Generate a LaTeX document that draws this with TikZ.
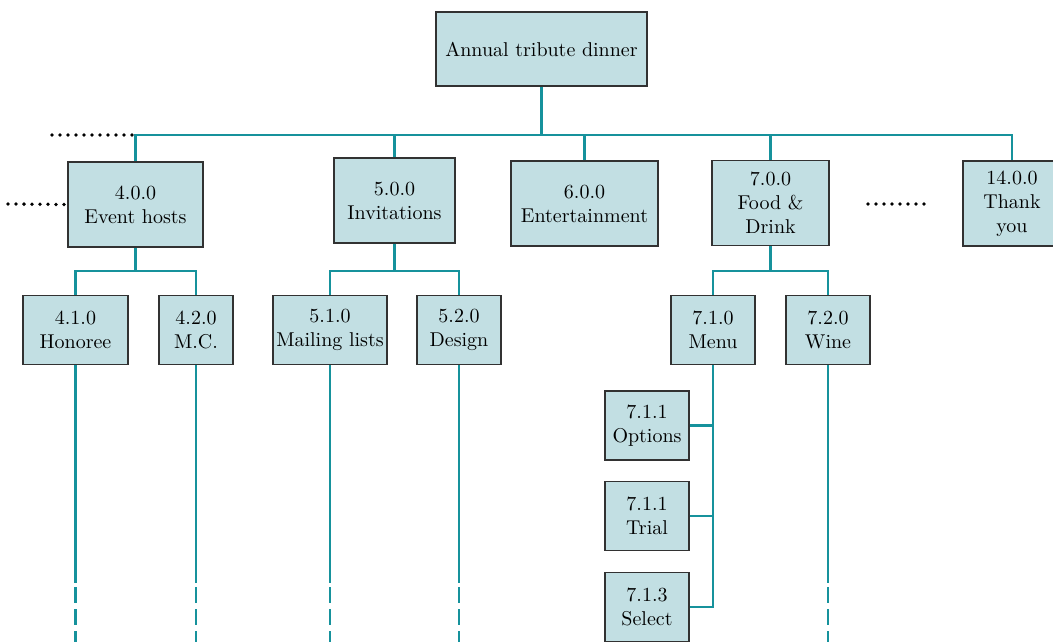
\documentclass[tikz,border=0pt]{standalone}
\usepackage{tikz}
\usetikzlibrary{positioning}

\definecolor{boxfill}{RGB}{194,223,227}
\definecolor{teal}{RGB}{22,146,156}
\definecolor{boxline}{RGB}{50,50,50}

\begin{document}
\begin{tikzpicture}[
    x=0.5pt, y=-0.5pt,
    task/.style={rectangle, draw=boxline, line width=0.7pt, fill=boxfill, align=center, inner sep=1pt, font=\fontsize{10}{12}\selectfont},
    top/.style={task, minimum height=42.5pt},
    sub/.style={task, minimum height=34.5pt},
    link/.style={teal, line width=1.35pt},
    cut/.style={teal, line width=1.35pt, dash pattern=on 8pt off 3pt},
    dots/.style={black, line width=1.9pt, line cap=round, dash pattern=on 0pt off 4pt}
]
\useasboundingbox (0,0) rectangle (1053,642);

% Root
\node[task, minimum width=105.5pt, minimum height=37pt] (dinner) at (541.5,49) {Annual tribute dinner};

% First level
\node[top, minimum width=67.5pt] (hosts) at (135.5,204.5) {4.0.0\\Event hosts};
\node[top, minimum width=60.5pt] (invites) at (394.5,200.5) {5.0.0\\Invitations};
\node[top, minimum width=73.5pt] (fun) at (584.5,203.5) {6.0.0\\Entertainment};
\node[top, minimum width=58.5pt] (food) at (770.5,203) {7.0.0\\Food \&\\Drink};
\node[top, minimum width=49pt] (thanks) at (1012,203.5) {14.0.0\\Thank\\you};

% Second level
\node[sub, minimum width=52.5pt] (honoree) at (75.5,330) {4.1.0\\Honoree};
\node[sub, minimum width=37pt] (mc) at (196,330) {4.2.0\\M.C.};
\node[sub, minimum width=57pt] (mailing) at (330,330) {5.1.0\\Mailing lists};
\node[sub, minimum width=42pt] (design) at (459,330) {5.2.0\\Design};
\node[sub, minimum width=42pt] (menu) at (713,330) {7.1.0\\Menu};
\node[sub, minimum width=42pt] (wine) at (828,330) {7.2.0\\Wine};

% Menu steps
\node[sub, minimum width=42pt] (options) at (647,425.5) {7.1.1\\Options};
\node[sub, minimum width=42pt] (trial) at (647,516) {7.1.1\\Trial};
\node[sub, minimum width=42pt] (select) at (647,607) {7.1.3\\Select};

% Helper coordinates
\coordinate (bus) at (0,135);
\coordinate (hostbus) at (0,271);
\coordinate (low) at (0,583);
\coordinate (dashtop) at (0,587);
\coordinate (bottom) at (0,642);
\coordinate (busleft) at (52,135);
\coordinate (hostsleft) at (8,204);
\coordinate (moreA) at (868,204);
\coordinate (moreB) at (928,204);

% Top bus
\draw[link] (dinner.south) -- (dinner.south |- bus);
\draw[link] (hosts.north) -- (hosts.north |- bus) -- (thanks.north |- bus) -- (thanks.north);
\draw[link] (invites.north) -- (invites.north |- bus);
\draw[link] (fun.north) -- (fun.north |- bus);
\draw[link] (food.north) -- (food.north |- bus);

% Second level links
\draw[link] (hosts.south) -- (hosts.south |- hostbus);
\draw[link] (honoree.north) -- (honoree.north |- hostbus) -- (mc.north |- hostbus) -- (mc.north);
\draw[link] (invites.south) -- (invites.south |- hostbus);
\draw[link] (mailing.north) -- (mailing.north |- hostbus) -- (design.north |- hostbus) -- (design.north);
\draw[link] (food.south) -- (food.south |- hostbus);
\draw[link] (menu.north) -- (menu.north |- hostbus) -- (wine.north |- hostbus) -- (wine.north);

% Menu steps links
\draw[link] (menu.south) -- (menu.south |- select.east) -- (select.east);
\draw[link] (options.east) -- (options.east -| menu.south);
\draw[link] (trial.east) -- (trial.east -| menu.south);

% Lines running on
\draw[link] (honoree.south) -- (honoree.south |- low);
\draw[cut] (honoree.south |- dashtop) -- (honoree.south |- bottom);
\draw[link] (mc.south) -- (mc.south |- low);
\draw[cut] (mc.south |- dashtop) -- (mc.south |- bottom);
\draw[link] (mailing.south) -- (mailing.south |- low);
\draw[cut] (mailing.south |- dashtop) -- (mailing.south |- bottom);
\draw[link] (design.south) -- (design.south |- low);
\draw[cut] (design.south |- dashtop) -- (design.south |- bottom);
\draw[link] (wine.south) -- (wine.south |- low);
\draw[cut] (wine.south |- dashtop) -- (wine.south |- bottom);

% Omitted branches
\draw[dots] (busleft) -- (hosts.north |- bus);
\draw[dots] (hostsleft) -- (hosts.west);
\draw[dots] (moreA) -- (moreB);

\end{tikzpicture}
\end{document}
